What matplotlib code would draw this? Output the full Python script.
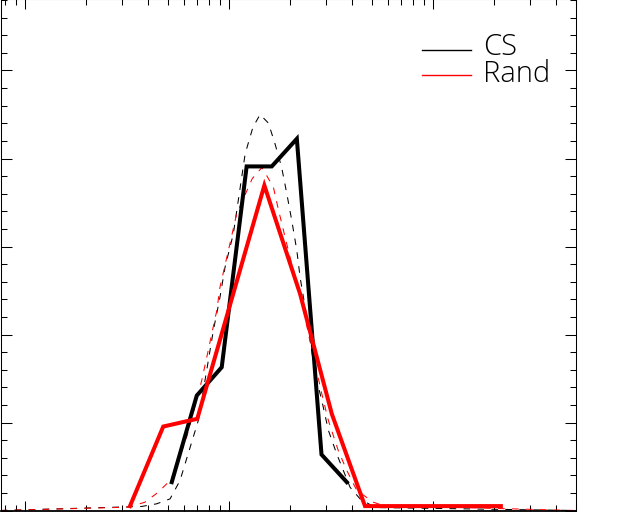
import matplotlib
matplotlib.use("Agg")
import matplotlib.pyplot as plt
from matplotlib.lines import Line2D
from matplotlib.ticker import MultipleLocator, LogLocator, NullFormatter

# CS histogram (thick black)
cs_x = [5.24, 6.95, 9.21, 12.2, 16.2, 21.5, 28.4, 37.8]
cs_y = [0.0161, 0.0653, 0.0814, 0.1955, 0.1955, 0.2112, 0.0318, 0.0161]

# Rand histogram (thick red)
rand_x = [3.27, 4.76, 6.99, 14.9, 22.3, 31.9, 46.4, 68.9, 101, 147, 215]
rand_y = [0.0025, 0.0477, 0.0521, 0.1847, 0.1231, 0.0549, 0.0025, 0.0025, 0.0025, 0.0025, 0.0025]

# fitted curves (thin dashed)
cs_fit_x = [0.76, 3.73, 4.42, 5.14, 5.75, 7.07, 8.38, 9.03, 9.56, 10.5, 11.1, 12.0,
            13.1, 14.2, 15.6, 16.8, 18.1, 19.2, 20.3, 21.5, 22.3, 23.6, 25.0, 26.4,
            28.5, 30.7, 33.7, 39.2, 43.9, 52.0, 502]
cs_fit_y = [0.0, 0.0023, 0.0038, 0.0066, 0.0170, 0.0511, 0.1023, 0.1212, 0.1382, 0.1572,
            0.1761, 0.2027, 0.2178, 0.2250, 0.2201, 0.2084, 0.1951, 0.1800, 0.1648, 0.1477,
            0.1326, 0.1155, 0.0966, 0.0777, 0.0625, 0.0455, 0.0322, 0.0132, 0.0066, 0.0017, 0.0]

rand_fit_x = [0.76, 3.21, 3.87, 4.50, 5.24, 5.64, 6.20, 7.35, 7.78, 8.23, 8.71, 9.03,
              10.1, 10.9, 13.0, 14.5, 16.5, 17.5, 19.9, 21.1, 22.7, 24.5, 26.4, 28.5,
              30.7, 34.3, 37.8, 42.3, 51.0, 57.1, 502]
rand_fit_y = [0.0, 0.0019, 0.0047, 0.0104, 0.0180, 0.0284, 0.0417, 0.0739, 0.0871, 0.1004,
              0.1136, 0.1269, 0.1515, 0.1686, 0.1886, 0.1949, 0.1837, 0.1705, 0.1439, 0.1326,
              0.1193, 0.1004, 0.0834, 0.0663, 0.0511, 0.0341, 0.0227, 0.0114, 0.0047, 0.0028, 0.0]

labels = ["CS", "Rand"]
colors = ["black", "red"]

W, H = 640, 512
fig = plt.figure(figsize=(6.4, 5.12), dpi=100)
# axes box runs off the top of the canvas, like the cropped original
ax = fig.add_axes([0.5 / W, 1.5 / H, 575.5 / W, 511.5 / H])

DASH = (0, (6.4, 7.0))
ax.plot(cs_fit_x, cs_fit_y, color="black", lw=0.75, ls=DASH)
ax.plot(rand_fit_x, rand_fit_y, color="red", lw=0.75, ls=DASH)
ax.plot(cs_x, cs_y, color="black", lw=2.9, solid_joinstyle="miter")
ax.plot(rand_x, rand_y, color="red", lw=2.9, solid_joinstyle="miter")

ax.set_xscale("log")
ax.set_xlim(0.7585, 502)
ax.set_ylim(0, 511.5 / 88 * 0.05)

ax.xaxis.set_major_locator(LogLocator(base=10))
ax.xaxis.set_minor_locator(LogLocator(base=10, subs=range(2, 10)))
ax.yaxis.set_major_locator(MultipleLocator(0.05))
ax.yaxis.set_minor_locator(MultipleLocator(0.01))
ax.xaxis.set_major_formatter(NullFormatter())
ax.xaxis.set_minor_formatter(NullFormatter())
ax.yaxis.set_major_formatter(NullFormatter())

ax.tick_params(which="both", direction="in", top=True, right=True, width=0.75,
               labelbottom=False, labelleft=False)
ax.tick_params(axis="x", which="major", length=7.2)
ax.tick_params(axis="x", which="minor", length=4.3)
ax.tick_params(axis="y", which="major", length=7.9)
ax.tick_params(axis="y", which="minor", length=4.3)
for sp in ax.spines.values():
    sp.set_linewidth(0.75)
ax.spines["bottom"].set_linewidth(1.3)

# hand-made legend, as in the IDL output
for i, (lab, col) in enumerate(zip(labels, colors)):
    ly = 50 + 25 * i
    fig.add_artist(Line2D([422 / W, 471 / W], [(H - ly) / H] * 2, color=col, lw=1.0))
    fig.text(483 / W, (H - (55 + 27 * i)) / H, lab, fontsize=21, family="Open Sans",
             fontweight="light", va="baseline", ha="left")

fig.savefig("out.png", dpi=100)
